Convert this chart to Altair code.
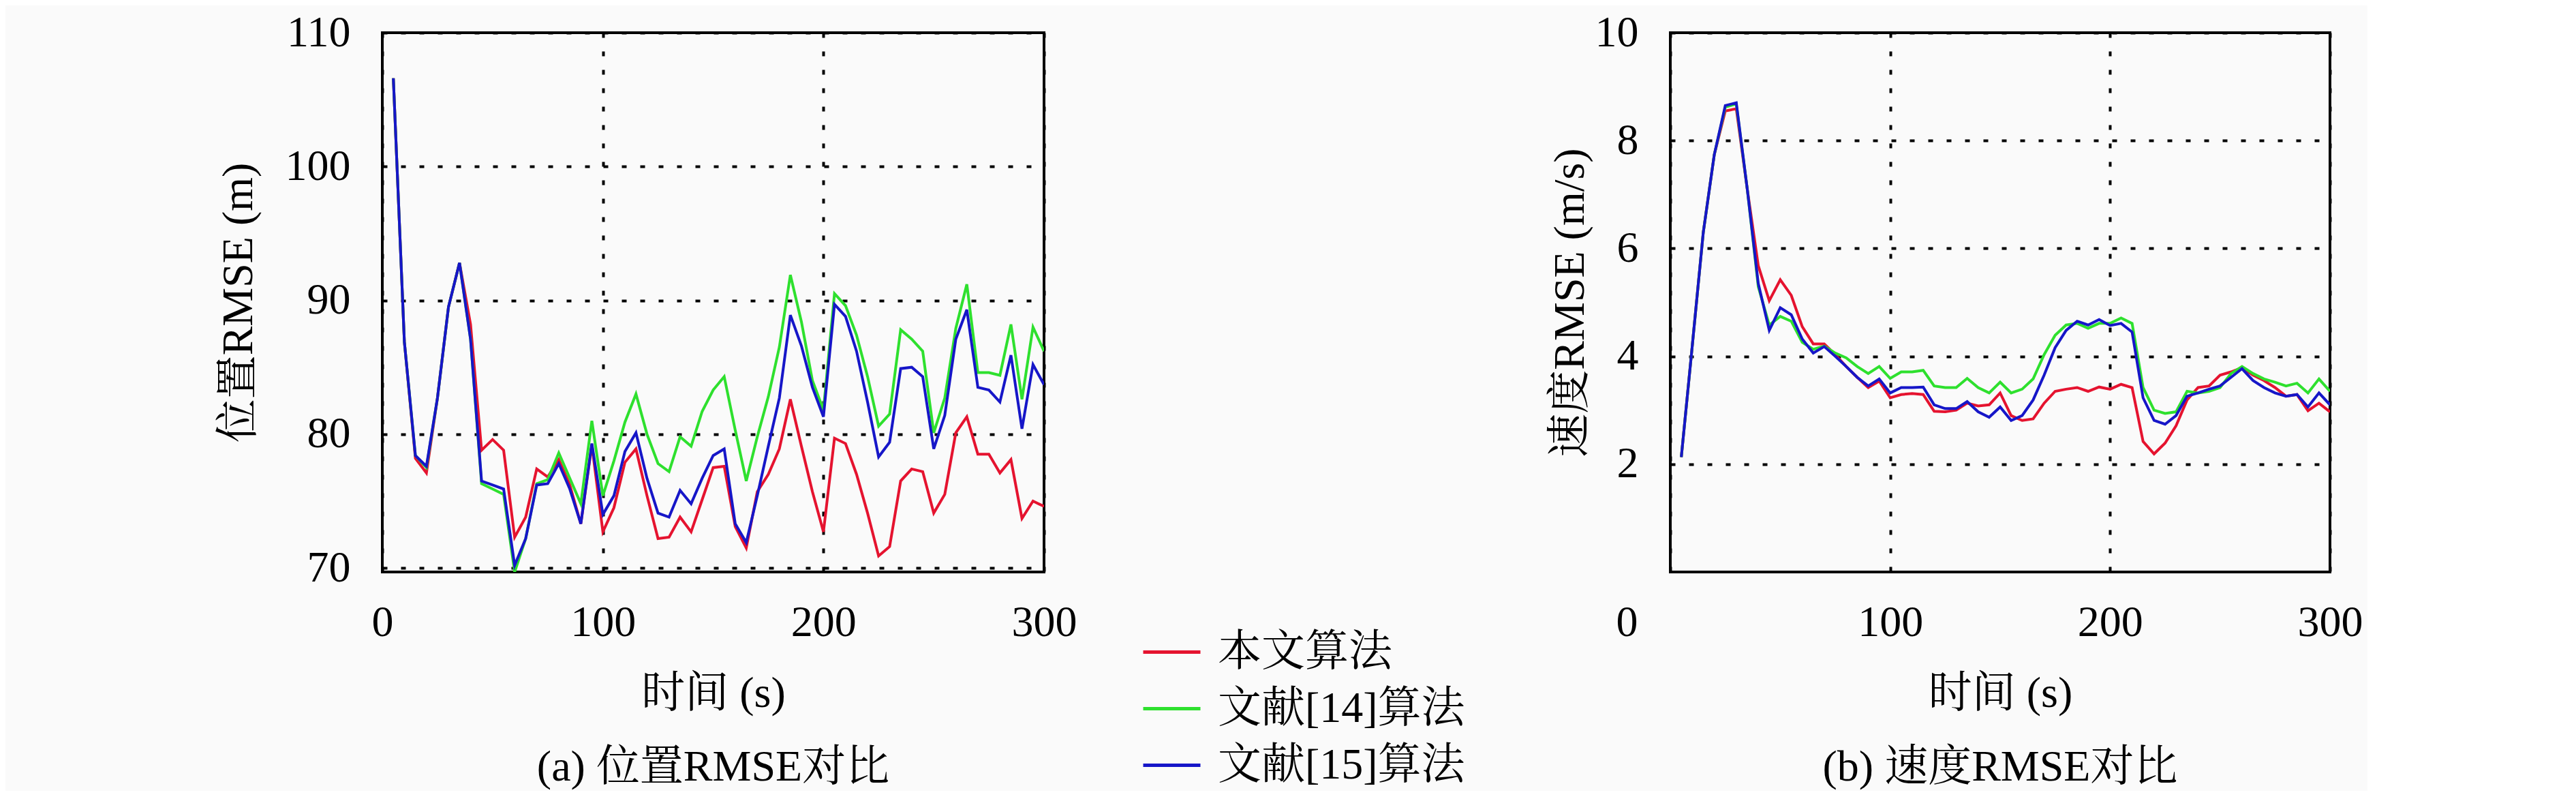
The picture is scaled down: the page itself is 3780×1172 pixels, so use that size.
import altair as alt
import pandas as pd

# time grid (s)
t = list(range(5, 305, 5))

series_names = ["本文算法", "文献[14]算法", "文献[15]算法"]
series_colors = ["#e5132f", "#2ee02e", "#1616c8"]

# position RMSE (m)
pos_ours = [106.6, 86.9, 78.2, 77.1, 82.7, 89.5, 92.8, 88.2, 78.8, 79.6,
            78.8, 72.3, 73.8, 77.4, 76.8, 78.1, 76.2, 73.3, 79.2, 72.7,
            74.5, 77.9, 78.9, 75.4, 72.2, 72.3, 73.8, 72.7, 75.1, 77.5,
            77.6, 73.1, 71.5, 75.7, 77.0, 78.9, 82.6, 79.1, 75.7, 72.7,
            79.7, 79.3, 77.0, 74.1, 70.9, 71.6, 76.5, 77.4, 77.2, 74.1,
            75.5, 80.1, 81.3, 78.5, 78.5, 77.1, 78.1, 73.7, 75.0, 74.6]
pos_ref14 = [106.6, 86.9, 78.4, 77.5, 82.7, 89.5, 92.8, 87.1, 76.3, 75.9,
             75.5, 69.7, 72.2, 76.3, 76.6, 78.6, 76.7, 74.8, 81.0, 75.4,
             78.0, 80.9, 83.0, 80.0, 77.8, 77.2, 79.8, 79.1, 81.7, 83.3,
             84.3, 80.3, 76.5, 79.8, 82.8, 86.5, 91.9, 88.4, 84.0, 81.8,
             90.5, 89.6, 87.4, 84.3, 80.6, 81.5, 87.8, 87.1, 86.2, 80.1,
             82.7, 87.9, 91.2, 84.6, 84.6, 84.4, 88.2, 82.6, 88.0, 86.2]
pos_ref15 = [106.6, 86.9, 78.4, 77.6, 82.7, 89.5, 92.8, 87.1, 76.5, 76.2,
             75.9, 70.2, 72.2, 76.2, 76.3, 77.8, 75.9, 73.3, 79.3, 74.0,
             75.4, 78.7, 80.1, 76.7, 74.1, 73.8, 75.8, 74.8, 76.7, 78.4,
             78.9, 73.3, 71.9, 75.4, 79.1, 82.7, 88.9, 86.6, 83.5, 81.3,
             89.7, 88.8, 86.2, 82.4, 78.3, 79.4, 84.9, 85.0, 84.3, 78.9,
             81.4, 87.1, 89.3, 83.5, 83.3, 82.4, 85.9, 80.4, 85.2, 83.7]

# velocity RMSE (m/s)
vel_ours = [2.13, 4.2, 6.3, 7.74, 8.55, 8.59, 7.1, 5.68, 5.03, 5.42,
            5.13, 4.55, 4.23, 4.23, 4.03, 3.81, 3.61, 3.42, 3.54, 3.23,
            3.29, 3.31, 3.29, 2.98, 2.97, 3.00, 3.13, 3.08, 3.10, 3.32,
            2.90, 2.81, 2.84, 3.13, 3.35, 3.39, 3.42, 3.35, 3.43, 3.39,
            3.48, 3.42, 2.42, 2.19, 2.39, 2.71, 3.19, 3.42, 3.45, 3.65,
            3.71, 3.79, 3.65, 3.55, 3.42, 3.26, 3.29, 2.99, 3.13, 2.97]
vel_ref14 = [2.13, 4.2, 6.3, 7.74, 8.62, 8.68, 7.1, 5.29, 4.58, 4.74,
             4.65, 4.26, 4.13, 4.19, 4.06, 3.97, 3.81, 3.68, 3.81, 3.59,
             3.71, 3.71, 3.74, 3.45, 3.42, 3.42, 3.59, 3.42, 3.32, 3.52,
             3.32, 3.39, 3.58, 4.03, 4.39, 4.58, 4.61, 4.52, 4.61, 4.61,
             4.71, 4.61, 3.42, 3.00, 2.94, 2.97, 3.35, 3.32, 3.35, 3.42,
             3.68, 3.81, 3.68, 3.58, 3.52, 3.45, 3.50, 3.32, 3.58, 3.35]
vel_ref15 = [2.13, 4.2, 6.3, 7.74, 8.65, 8.70, 7.1, 5.35, 4.48, 4.90,
             4.77, 4.32, 4.06, 4.18, 4.00, 3.81, 3.61, 3.45, 3.58, 3.32,
             3.42, 3.42, 3.43, 3.10, 3.03, 3.03, 3.16, 2.97, 2.87, 3.06,
             2.81, 2.90, 3.19, 3.65, 4.16, 4.48, 4.65, 4.58, 4.68, 4.57,
             4.61, 4.45, 3.23, 2.81, 2.74, 2.90, 3.26, 3.32, 3.39, 3.45,
             3.61, 3.77, 3.55, 3.42, 3.32, 3.26, 3.29, 3.06, 3.32, 3.10]

x_ticks = [0, 100, 200, 300]
pos_ticks = [70, 80, 90, 100, 110]
vel_ticks = [2, 4, 6, 8, 10]


def to_long(vals_list):
    rows = []
    for name, vals in zip(series_names, vals_list):
        for ti, v in zip(t, vals):
            rows.append({"t": ti, "v": v, "s": name})
    return pd.DataFrame(rows)


pos_df = to_long([pos_ours, pos_ref14, pos_ref15])
vel_df = to_long([vel_ours, vel_ref14, vel_ref15])

FONT = "Liberation Serif, Noto Serif CJK SC, Noto Sans CJK SC, serif"
FS = 64
W_L, W_R, H = 971, 968, 791

color = alt.Color(
    "s:N",
    sort=series_names,
    scale=alt.Scale(domain=series_names, range=series_colors),
    legend=alt.Legend(
        title=None, orient="none", legendX=1114, legendY=864,
        symbolType="stroke", symbolSize=7056, symbolStrokeWidth=5,
        labelFont=FONT, labelFontSize=FS, labelColor="black",
        labelOffset=23, rowPadding=6, padding=0, labelLimit=2000,
    ),
)

grid_style = dict(grid=True, gridColor="black", gridDash=[7, 20], gridWidth=4,
                  domain=False, ticks=False, labelFont=FONT, labelFontSize=FS,
                  labelColor="black", titleFont=FONT, titleFontSize=FS,
                  titleFontWeight="normal", titleColor="black")


def panel(df, width, ydomain, yticks, ytitle, ytitle_x, caption, xlabel_offset):
    xaxis_kw = dict(values=x_ticks, title="时间 (s)", titleY=178,
                    titleBaseline="middle", labelPadding=42, labelFlush=False,
                    labelOverlap=False, format="d", **grid_style)
    if xlabel_offset:
        xaxis_kw["labelOffset"] = {"expr": "datum.value === 0 ? %d : 0" % xlabel_offset}
    base = alt.Chart(df).mark_line(strokeWidth=4, clip=True).encode(
        x=alt.X("t:Q", scale=alt.Scale(domain=[0, 300], nice=False),
                axis=alt.Axis(**xaxis_kw)),
        y=alt.Y("v:Q", scale=alt.Scale(domain=ydomain, nice=False, zero=False),
                axis=alt.Axis(values=yticks, title=ytitle, titleX=ytitle_x,
                              titleY=H / 2, titleBaseline="middle",
                              labelPadding=47, labelFlush=False,
                              labelOverlap=False, format="d", **grid_style)),
        color=color,
    )
    return base.properties(
        width=width, height=H,
        title=alt.TitleParams(caption, orient="bottom", anchor="middle",
                              font=FONT, fontSize=FS, fontWeight="normal",
                              color="black", offset=45),
    )


left = panel(pos_df, W_L, [69.7, 110], pos_ticks, "位置RMSE (m)", -211,
             "(a) 位置RMSE对比", 0)
right = panel(vel_df, W_R, [0, 10], vel_ticks, "速度RMSE (m/s)", -147,
              "(b) 速度RMSE对比", -64)

chart = alt.HConcatChart(hconcat=[left, right], spacing=919, bounds="flush").properties(
    padding={"left": 308, "top": 6, "right": 5, "bottom": 0},
    background="#fafafa",
).configure_view(stroke="black", strokeWidth=4)

chart.save("out.html", embed_options={"renderer": "svg", "actions": False})
